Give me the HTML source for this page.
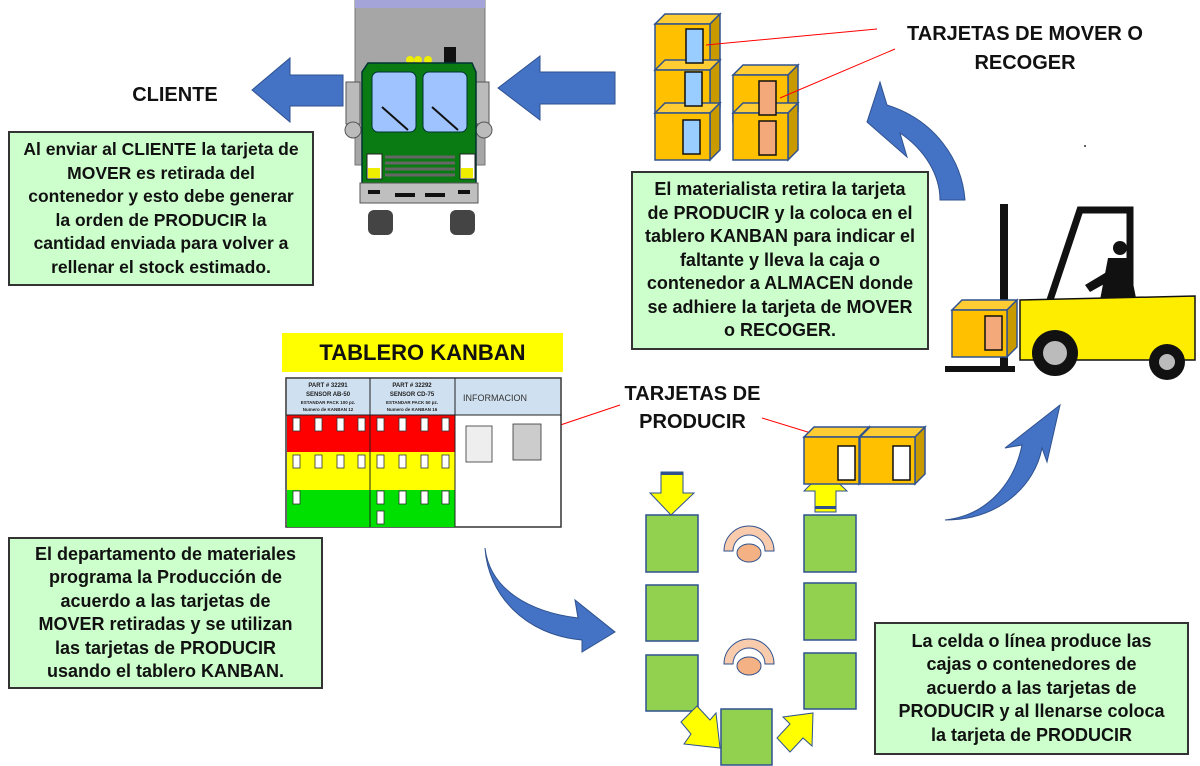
<!DOCTYPE html>
<html><head><meta charset="utf-8"><style>
body{margin:0;background:#fff;width:1200px;height:766px;overflow:hidden;position:relative;font-family:"Liberation Sans",sans-serif}
.box{position:absolute;background:#ccffcc;border:2px solid #333;box-sizing:border-box;text-align:center;font-weight:bold;font-size:18px;line-height:23.5px;color:#111;display:flex;align-items:center;justify-content:center}
.lbl{position:absolute;font-weight:bold;color:#111;text-align:center}
svg{position:absolute;left:0;top:0}
</style></head><body>
<svg width="1200" height="766" viewBox="0 0 1200 766">
<defs>
<g id="cube"><polygon points="0,10 10,0 65,0 55,10" fill="#ffcc33" stroke="#2f528f" stroke-width="1.5"/><polygon points="55,10 65,0 65,47 55,57" fill="#c99a00" stroke="#2f528f" stroke-width="1.5"/><rect x="0" y="10" width="55" height="47" fill="#ffc000" stroke="#2f528f" stroke-width="1.5"/></g>
</defs>
<polygon points="252,90 290,58 290,75 343,75 343,106 290,106 290,122" fill="#4472c4" stroke="#2f528f"/>
<polygon points="498,88 540,56 540,72 615,72 615,104 540,104 540,120" fill="#4472c4" stroke="#2f528f"/>
<path d="M940,200 C940,175 925,150 900,133 L907,157 L867,122 L880,82 L887,105 C935,120 962,160 965,200 Z" fill="#4472c4" stroke="#2f528f"/>
<path d="M485,548 C490,590 530,612 578,618 L575,600 L615,632 L582,652 L582,640 C525,635 488,595 485,548 Z" fill="#4472c4" stroke="#2f528f"/>
<path d="M945,520 C990,515 1015,480 1022,445 L1005,448 L1060,405 L1047,462 L1042,448 C1035,485 1000,520 945,520 Z" fill="#4472c4" stroke="#2f528f"/>
<rect x="355" y="0" width="130" height="165" fill="#a6a6a6" stroke="#777"/>
<rect x="355" y="0" width="130" height="8" fill="#a4a4d8"/>
<rect x="346" y="82" width="14" height="42" fill="#bbb" stroke="#555"/><rect x="475" y="82" width="14" height="42" fill="#bbb" stroke="#555"/>
<circle cx="353" cy="130" r="8" fill="#bbb" stroke="#555"/><circle cx="484" cy="130" r="8" fill="#bbb" stroke="#555"/>
<rect x="444" y="47" width="12" height="16" fill="#111"/>
<circle cx="410" cy="60" r="4" fill="#ee0"/><circle cx="418" cy="60" r="4" fill="#ee0"/><circle cx="428" cy="60" r="4" fill="#ee0"/>
<rect x="368" y="210" width="25" height="25" rx="6" fill="#444"/><rect x="450" y="210" width="25" height="25" rx="6" fill="#444"/>
<path d="M368,63 L472,63 L476,72 L476,185 L362,185 L362,72 Z" fill="#0a7a12" stroke="#033" stroke-width="1.5"/>
<rect x="372" y="72" width="44" height="60" rx="6" fill="#9ec3ff" stroke="#033"/><rect x="423" y="72" width="44" height="60" rx="6" fill="#9ec3ff" stroke="#033"/>
<line x1="382" y1="107" x2="408" y2="130" stroke="#111" stroke-width="2"/><line x1="432" y1="107" x2="458" y2="130" stroke="#111" stroke-width="2"/>
<rect x="367" y="154" width="15" height="25" fill="#fff" stroke="#222"/><rect x="460" y="154" width="15" height="25" fill="#fff" stroke="#222"/>
<rect x="368" y="168" width="12" height="10" fill="#ee0"/><rect x="461" y="168" width="12" height="10" fill="#ee0"/>
<g stroke="#666" stroke-width="3"><line x1="385" y1="157" x2="455" y2="157"/><line x1="385" y1="163" x2="455" y2="163"/><line x1="385" y1="169" x2="455" y2="169"/><line x1="385" y1="175" x2="455" y2="175"/></g>
<rect x="360" y="183" width="118" height="20" fill="#bfbfbf" stroke="#555"/>
<g fill="#111"><rect x="368" y="190" width="12" height="4"/><rect x="395" y="193" width="20" height="4"/><rect x="425" y="193" width="20" height="4"/><rect x="458" y="190" width="12" height="4"/></g>
<use href="#cube" x="655" y="14"/><use href="#cube" x="655" y="60"/><use href="#cube" x="655" y="103"/>
<rect x="686" y="29" width="17" height="34" fill="#99ccff" stroke="#111" stroke-width="1.5"/>
<rect x="685" y="72" width="17" height="34" fill="#99ccff" stroke="#111" stroke-width="1.5"/>
<rect x="683" y="120" width="17" height="34" fill="#99ccff" stroke="#111" stroke-width="1.5"/>
<use href="#cube" x="733" y="65"/><use href="#cube" x="733" y="103"/>
<rect x="759" y="81" width="17" height="34" fill="#f4a97a" stroke="#111" stroke-width="1.5"/>
<rect x="759" y="121" width="17" height="34" fill="#f4a97a" stroke="#111" stroke-width="1.5"/>
<g stroke="#f00" fill="none" stroke-width="1"><line x1="877" y1="29" x2="706" y2="45"/><line x1="895" y1="49" x2="780" y2="98"/><line x1="620" y1="405" x2="450" y2="462"/><line x1="762" y1="418" x2="850" y2="445"/></g>
<rect x="1000" y="204" width="8" height="165" fill="#111"/>
<path d="M1040,330 L1080,210 L1130,210 L1130,300" fill="none" stroke="#111" stroke-width="7"/>
<circle cx="1120" cy="248" r="7" fill="#111"/>
<path d="M1108,258 L1128,258 L1136,298 L1100,300 Z" fill="#111"/>
<path d="M1085,285 L1110,270 L1115,278 L1090,292 Z" fill="#111"/>
<path d="M1020,300 L1195,296 L1195,360 L1020,360 Z" fill="#ffed00" stroke="#111" stroke-width="1.5"/>
<circle cx="1055" cy="353" r="23" fill="#111"/><circle cx="1055" cy="353" r="12" fill="#bbb"/>
<circle cx="1167" cy="362" r="18" fill="#111"/><circle cx="1167" cy="362" r="8" fill="#bbb"/>
<rect x="945" y="366" width="70" height="6" fill="#111"/>
<use href="#cube" x="952" y="300"/>
<rect x="985" y="316" width="17" height="34" fill="#f4a97a" stroke="#111" stroke-width="1.5"/>
<rect x="282" y="333" width="281" height="39" fill="#ffff00"/>
<rect x="286" y="378" width="275" height="149" fill="#fff" stroke="#333" stroke-width="1.5"/>
<rect x="287" y="379" width="273" height="36" fill="#cfe0f0"/>
<rect x="287" y="415" width="168" height="37" fill="#f00"/><rect x="287" y="452" width="168" height="38" fill="#ff0"/><rect x="287" y="490" width="168" height="37" fill="#00e000"/>
<line x1="370" y1="378" x2="370" y2="527" stroke="#222"/><line x1="455" y1="378" x2="455" y2="527" stroke="#222"/><line x1="286" y1="415" x2="561" y2="415" stroke="#222"/>
<g fill="#fff" stroke="#333" stroke-width="0.8">
<rect x="293" y="418" width="7" height="13"/><rect x="315" y="418" width="7" height="13"/><rect x="337" y="418" width="7" height="13"/><rect x="358" y="418" width="7" height="13"/>
<rect x="377" y="418" width="7" height="13"/><rect x="399" y="418" width="7" height="13"/><rect x="421" y="418" width="7" height="13"/><rect x="442" y="418" width="7" height="13"/>
<rect x="293" y="455" width="7" height="13"/><rect x="315" y="455" width="7" height="13"/><rect x="337" y="455" width="7" height="13"/><rect x="358" y="455" width="7" height="13"/>
<rect x="377" y="455" width="7" height="13"/><rect x="399" y="455" width="7" height="13"/><rect x="421" y="455" width="7" height="13"/><rect x="442" y="455" width="7" height="13"/>
<rect x="293" y="491" width="7" height="13"/><rect x="377" y="491" width="7" height="13"/><rect x="399" y="491" width="7" height="13"/><rect x="421" y="491" width="7" height="13"/><rect x="442" y="491" width="7" height="13"/><rect x="377" y="511" width="7" height="13"/>
<rect x="466" y="426" width="26" height="36" fill="#eee"/><rect x="513" y="424" width="28" height="36" fill="#ccc"/></g>
<g font-family="Liberation Sans" font-weight="bold" fill="#222" text-anchor="middle">
<text x="328" y="387" font-size="6">PART # 32291</text><text x="328" y="396" font-size="6">SENSOR AB-50</text><text x="328" y="404" font-size="4.5">ESTANDAR PACK 100 pz.</text><text x="328" y="411" font-size="4.5">Numero de KANBAN 12</text>
<text x="412" y="387" font-size="6">PART # 32292</text><text x="412" y="396" font-size="6">SENSOR CD-75</text><text x="412" y="404" font-size="4.5">ESTANDAR PACK 50 pz.</text><text x="412" y="411" font-size="4.5">Numero de KANBAN 16</text>
</g>
<text x="463" y="401" font-family="Liberation Sans" font-size="9" fill="#333">INFORMACION</text>
<g fill="#92d050" stroke="#2f528f" stroke-width="1.5">
<rect x="646" y="515" width="52" height="57"/><rect x="646" y="585" width="52" height="56"/><rect x="646" y="655" width="52" height="56"/>
<rect x="804" y="515" width="52" height="57"/><rect x="804" y="583" width="52" height="57"/><rect x="804" y="653" width="52" height="56"/>
<rect x="721" y="709" width="51" height="56"/></g>
<g fill="#ffff00" stroke="#2f528f" stroke-width="1">
<polygon points="661,472 683,472 683,493 694,493 671,515 650,493 661,493"/>
<polygon points="815,512 836,512 836,491 847,491 825,470 804,491 815,491"/>
<polygon points="681,722 697,706 710,720 716,713 720,748 684,744 691,734"/>
<polygon points="790,752 777,738 790,724 783,717 813,713 812,746 803,738"/>
</g>
<g fill="#2f528f"><rect x="661" y="472" width="22" height="3"/><rect x="815" y="506" width="21" height="3"/></g>
<g fill="#f8cbad" stroke="#2f528f"><path d="M724,551 A25,25 0 0 1 774,551 L765,551 A16,16 0 0 0 733,551 Z"/><path d="M724,664 A25,25 0 0 1 774,664 L765,664 A16,16 0 0 0 733,664 Z"/></g>
<g fill="#f4b183" stroke="#2f528f"><ellipse cx="749" cy="553" rx="12" ry="9"/><ellipse cx="749" cy="666" rx="12" ry="9"/></g>
<use href="#cube" x="804" y="427"/><use href="#cube" x="860" y="427"/>
<rect x="838" y="446" width="17" height="34" fill="#fff" stroke="#111" stroke-width="1.5"/>
<rect x="893" y="446" width="17" height="34" fill="#fff" stroke="#111" stroke-width="1.5"/>
<circle cx="1085" cy="146" r="1" fill="#333"/>
</svg>
<div class="lbl" style="left:110px;top:84px;width:130px;font-size:20px">CLIENTE</div>
<div class="lbl" style="left:870px;top:20px;width:310px;font-size:20px;line-height:29px">TARJETAS DE MOVER O<br>RECOGER</div>
<div class="lbl" style="left:282px;top:340px;width:281px;font-size:22px">TABLERO KANBAN</div>
<div class="lbl" style="left:590px;top:380px;width:205px;font-size:20px;line-height:28px">TARJETAS DE<br>PRODUCIR</div>
<div class="box" style="left:8px;top:131px;width:306px;height:155px;padding:0 12px;font-size:17.5px">Al enviar al CLIENTE la tarjeta de MOVER es retirada del contenedor y esto debe generar la orden de PRODUCIR la cantidad enviada para volver a rellenar el stock estimado.</div>
<div class="box" style="left:631px;top:171px;width:298px;height:179px;padding:0 10px">El materialista retira la tarjeta de PRODUCIR y la coloca en el tablero KANBAN para indicar el faltante y lleva la caja o contenedor a ALMACEN donde se adhiere la tarjeta de MOVER o RECOGER.</div>
<div class="box" style="left:8px;top:537px;width:315px;height:152px;padding:0 24px">El departamento de materiales programa la Producción de acuerdo a las tarjetas de MOVER retiradas y se utilizan las tarjetas de PRODUCIR usando el tablero KANBAN.</div>
<div class="box" style="left:874px;top:622px;width:315px;height:133px;padding:0 14px">La celda o línea produce las cajas o contenedores de acuerdo a las tarjetas de PRODUCIR y al llenarse coloca la tarjeta de PRODUCIR</div>
</body></html>
